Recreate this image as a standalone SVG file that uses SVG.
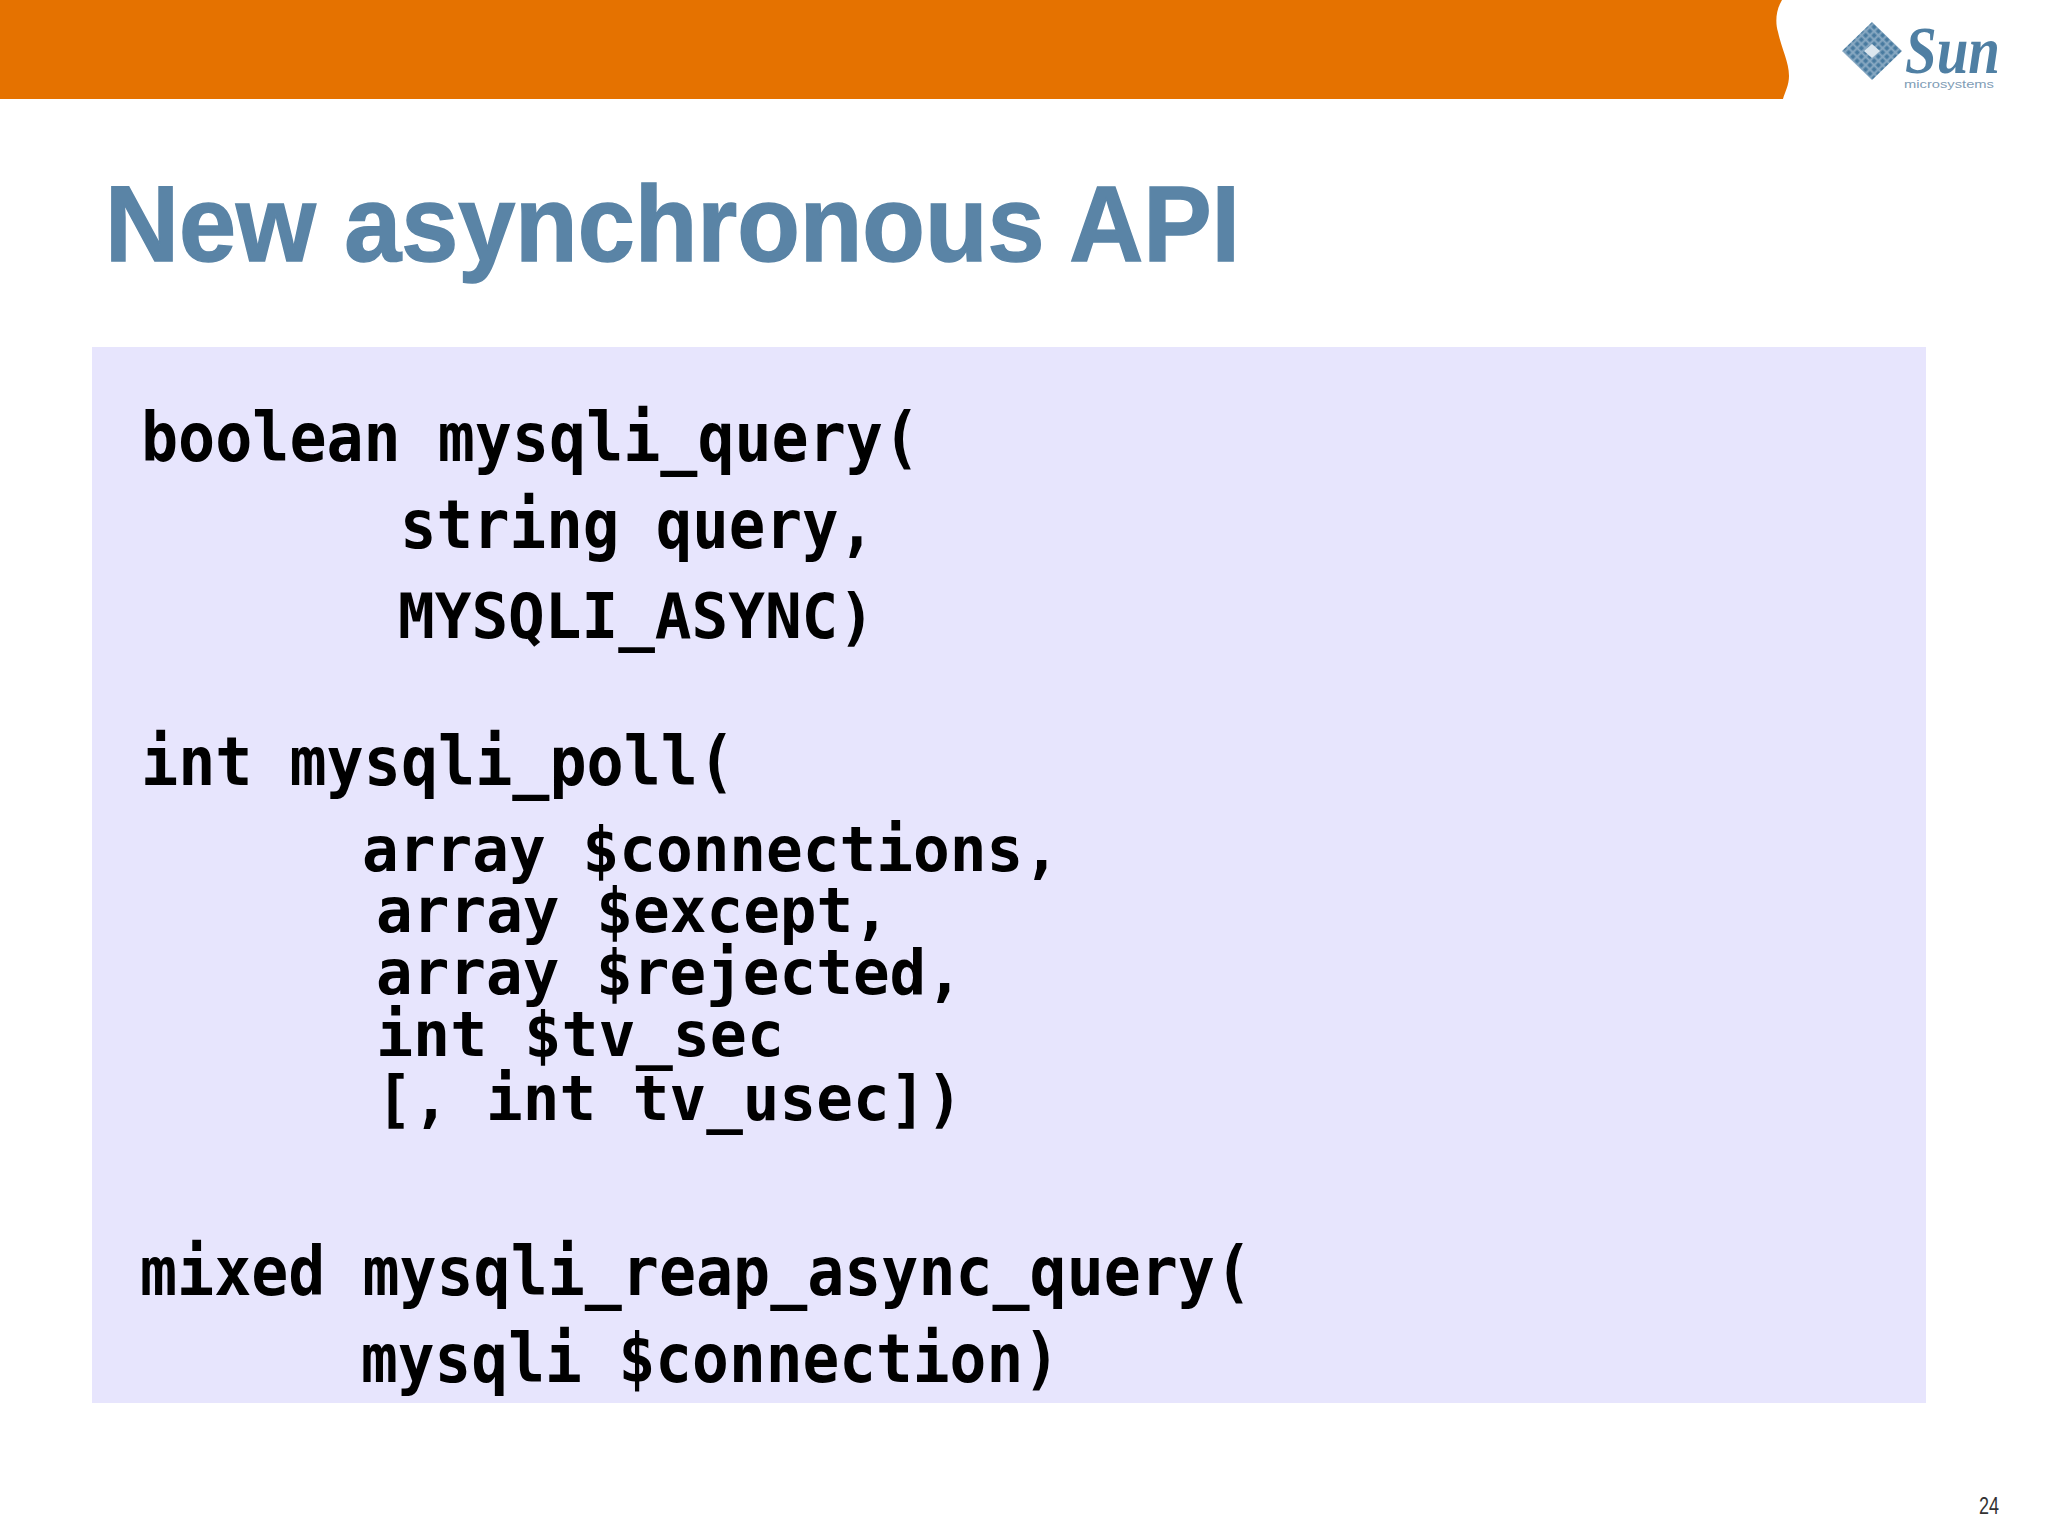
<svg xmlns="http://www.w3.org/2000/svg" width="2048" height="1536" viewBox="0 0 2048 1536">
<style>
.c{font-family:"DejaVu Sans Mono","Liberation Mono",monospace;font-size:68px;font-weight:700;fill:#000}
.t{font-size:63px}
</style>
<defs>
<pattern id="d" width="6" height="6" patternUnits="userSpaceOnUse" patternTransform="rotate(45 1872 51)">
<rect width="6" height="6" fill="#8aaac3"/><rect x="0.5" y="0.5" width="4" height="4" fill="#487a9f"/>
</pattern>
</defs>
<rect width="2048" height="1536" fill="#fff"/>
<path d="M0 0H1782C1776 10 1775 22 1778 32C1782 50 1789 62 1789 76C1789 85 1785 92 1783 99H0Z" fill="#e57200"/>
<g id="logo">
<path d="M1872 22L1902 51L1872 80L1842 51Z" fill="url(#d)"/>
<path d="M1872 44L1880 51L1872 58L1864 51Z" fill="#dbe6ee"/>
<text x="1905" y="73" font-family="Liberation Serif,serif" font-style="italic" font-weight="700" font-size="68" fill="#4f7fa3" textLength="95" lengthAdjust="spacingAndGlyphs">Sun</text>
<text x="1904" y="88" font-family="Liberation Sans,sans-serif" font-size="10" fill="#7f9db6" textLength="90" lengthAdjust="spacingAndGlyphs">microsystems</text>
</g>
<text id="title" x="105" y="261" font-family="Liberation Sans,Arial,sans-serif" font-weight="700" font-size="108" fill="#5a84a6" stroke="#5a84a6" stroke-width="1.5" textLength="1135" lengthAdjust="spacingAndGlyphs">New asynchronous API</text>
<rect id="panel" x="92" y="347" width="1834" height="1056" fill="#e7e5fd"/>
<g id="code">
<text class="c" x="141" y="461" textLength="779" lengthAdjust="spacingAndGlyphs">boolean mysqli_query(</text>
<text class="c" x="400" y="548" textLength="475" lengthAdjust="spacingAndGlyphs">string query,</text>
<text class="c t" x="398" y="638" textLength="477" lengthAdjust="spacingAndGlyphs">MYSQLI_ASYNC)</text>
<text class="c" x="141" y="785" textLength="594" lengthAdjust="spacingAndGlyphs">int mysqli_poll(</text>
<text class="c t" x="362" y="871" textLength="698" lengthAdjust="spacingAndGlyphs">array $connections,</text>
<text class="c t" x="376" y="932" textLength="514" lengthAdjust="spacingAndGlyphs">array $except,</text>
<text class="c t" x="376" y="994" textLength="587" lengthAdjust="spacingAndGlyphs">array $rejected,</text>
<text class="c t" x="376" y="1056" textLength="408" lengthAdjust="spacingAndGlyphs">int $tv_sec</text>
<text class="c t" x="376" y="1120" textLength="587" lengthAdjust="spacingAndGlyphs">[, int tv_usec])</text>
<text class="c" x="140" y="1295" textLength="1112" lengthAdjust="spacingAndGlyphs">mixed mysqli_reap_async_query(</text>
<text class="c" x="361" y="1382" textLength="699" lengthAdjust="spacingAndGlyphs">mysqli $connection)</text>
</g>
<text id="page" x="1979" y="1514" font-family="Liberation Sans,sans-serif" font-size="24" fill="#333" textLength="20" lengthAdjust="spacingAndGlyphs">24</text>
</svg>
